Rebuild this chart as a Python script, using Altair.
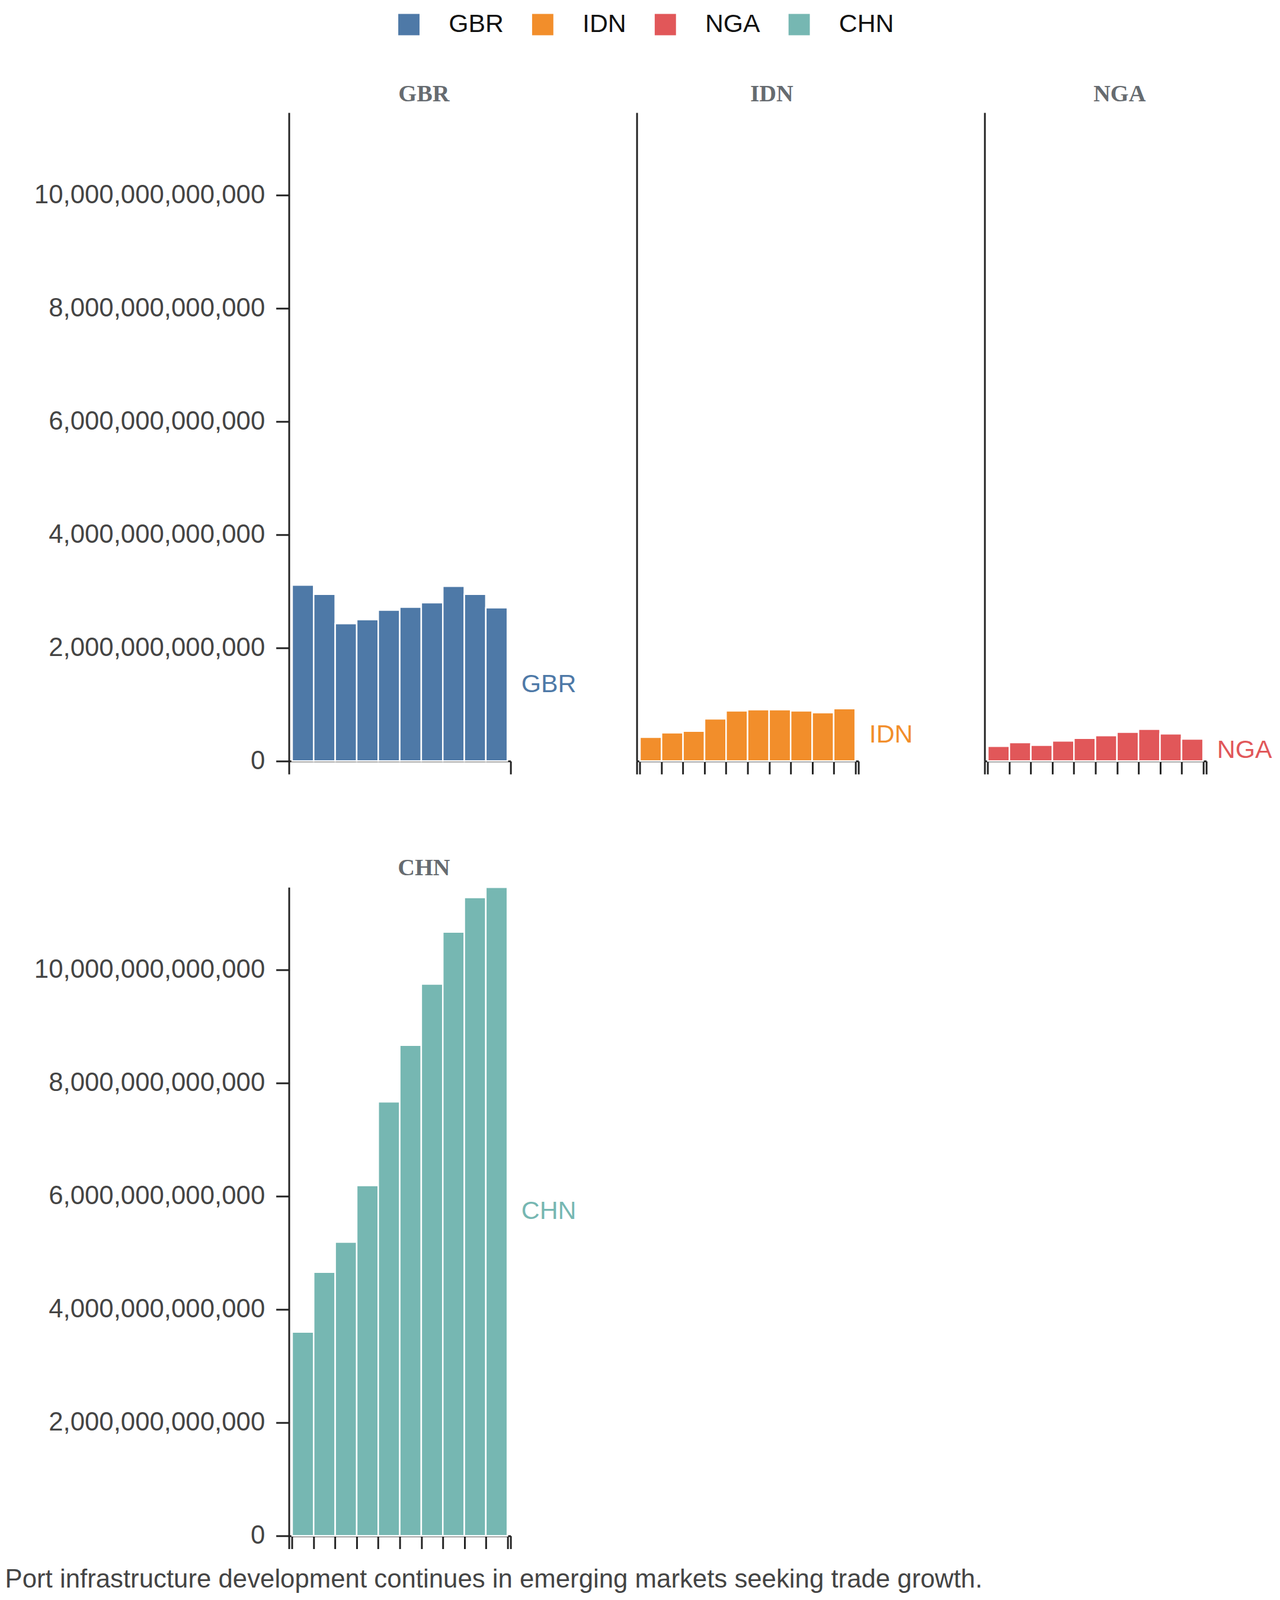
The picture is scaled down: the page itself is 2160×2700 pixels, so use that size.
import altair as alt
import pandas as pd

countries = ["GBR", "IDN", "NGA", "CHN"]
years = [2007, 2008, 2009, 2010, 2011, 2012, 2013, 2014, 2015, 2016]
# values in trillions
gbr = [3.11, 2.95, 2.43, 2.50, 2.67, 2.72, 2.80, 3.09, 2.95, 2.71]
idn = [0.423, 0.500, 0.529, 0.748, 0.889, 0.910, 0.910, 0.889, 0.857, 0.927]
nga = [0.264, 0.328, 0.282, 0.356, 0.405, 0.451, 0.511, 0.564, 0.483, 0.391]
chn = [3.60, 4.66, 5.19, 6.19, 7.67, 8.67, 9.75, 10.67, 11.28, 11.46]
colors = ["#4e79a7", "#f28e2b", "#e15759", "#76b7b2"]
y_ticks = [0, 2e12, 4e12, 6e12, 8e12, 10e12]
caption = "Port infrastructure development continues in emerging markets seeking trade growth."

series = {"GBR": gbr, "IDN": idn, "NGA": nga, "CHN": chn}
rows = []
for c in countries:
    for yr, v in zip(years, series[c]):
        rows.append({"country": c, "year": yr, "value": v * 1e12})
df = pd.DataFrame(rows)

ymax = df["value"].max()
yscale = alt.Scale(domain=[0, ymax], nice=False, zero=True)
xdom = [years[0] - 0.65, years[-1] + 0.65]
xscale = alt.Scale(domain=xdom, nice=False, zero=False)
cscale = alt.Scale(domain=countries, range=colors)

AX = "#222222"
W, H = 376, 1100

legend = alt.Legend(
    orient="none", legendX=182, legendY=-171, direction="horizontal", title=None,
    symbolType="square", symbolSize=1300, symbolStrokeWidth=0,
    labelFontSize=43, labelFont="Liberation Sans", labelColor="#111111",
    labelOffset=46, columnPadding=44,
)


def panel(c, full_y, band_ticks):
    if band_ticks:
        tv = [xdom[0]] + [yr - 0.5 for yr in years] + [years[-1] + 0.5] + [xdom[1]]
    else:
        tv = [xdom[0], xdom[1]]
    xaxis = alt.Axis(values=tv, labels=False, title=None, grid=False, ticks=True,
                     tickSize=22, tickWidth=3, tickColor=AX, domainWidth=3, domainColor=AX)
    if full_y:
        yaxis = alt.Axis(values=y_ticks, format=",.0f", title=None, grid=False,
                         labelFontSize=44, labelFont="Liberation Sans", labelColor="#444444",
                         labelPadding=19, labelLimit=1000, tickSize=22, tickWidth=3,
                         tickColor=AX, domainWidth=3, domainColor=AX)
    else:
        yaxis = alt.Axis(values=y_ticks, title=None, grid=False, labels=False, ticks=False,
                         domainWidth=3, domainColor=AX)
    base = alt.Chart(df).transform_filter(alt.datum.country == c)
    bars = base.transform_calculate(
        x0="datum.year - 0.5", x1="datum.year + 0.5"
    ).mark_bar(stroke="white", strokeWidth=2.5).encode(
        x=alt.X("x0:Q", scale=xscale, axis=xaxis),
        x2="x1:Q",
        y=alt.Y("value:Q", scale=yscale, axis=yaxis),
        y2=alt.datum(0),
        color=alt.Color("country:N", scale=cscale, legend=legend),
    )
    label = base.transform_filter(alt.datum.year == years[-1]).transform_calculate(
        mid="datum.value / 2"
    ).mark_text(align="left", baseline="middle", dx=42, fontSize=43,
                font="Liberation Sans").encode(
        x=alt.X("year:Q", scale=xscale, axis=xaxis),
        y=alt.Y("mid:Q", scale=yscale, axis=yaxis),
        text="country:N",
        color=alt.Color("country:N", scale=cscale, legend=legend),
    )
    return alt.layer(bars, label).properties(
        width=W, height=H,
        title=alt.TitleParams(c, font="Liberation Serif", fontWeight="bold", fontSize=40,
                              color="#666b70", offset=11, dx=41),
    )


chart = alt.concat(
    panel("GBR", True, False),
    panel("IDN", False, True),
    panel("NGA", False, True),
    panel("CHN", True, True),
    columns=3, spacing=214, bounds="flush",
).resolve_scale(color="shared", x="shared", y="shared").properties(
    title=alt.TitleParams(caption, orient="bottom", anchor="start", frame="bounds",
                          fontSize=44, font="Liberation Sans", fontWeight="normal",
                          color="#444444", offset=29, dx=-49),
    padding={"left": 0, "top": 5, "right": 5, "bottom": 5},
    background="white",
).configure_view(stroke="transparent", strokeWidth=0)

chart.save("out.html", embed_options={"renderer": "svg", "actions": False})
